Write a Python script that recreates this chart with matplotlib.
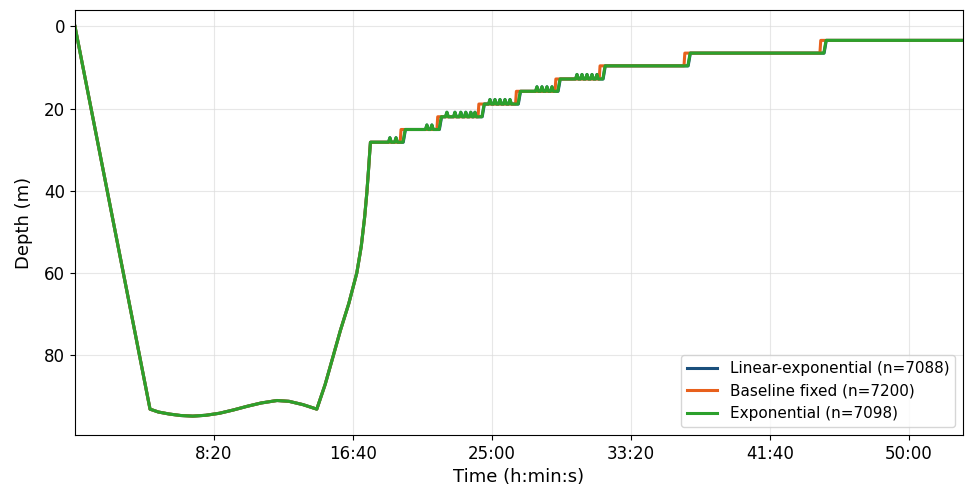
import matplotlib
matplotlib.use("Agg")
import matplotlib.pyplot as plt
from matplotlib.ticker import FuncFormatter
import numpy as np

# Dive profile breakpoints (time in s, depth in m)
descent_t = [0, 270]
descent_d = [0.0, 93.2]

bottom_t = [300, 340, 380, 424, 470, 520, 570, 620, 670, 727, 770, 820, 870]
bottom_d = [93.9, 94.4, 94.75, 94.9, 94.7, 94.2, 93.4, 92.5, 91.7, 91.1, 91.3, 92.1, 93.2]

ascent_t = [900, 928, 955, 985, 1014, 1030, 1042, 1050, 1056, 1060, 1063]
ascent_d = [87.2, 80.5, 74.0, 67.5, 60.0, 53.5, 46.5, 40.5, 35.0, 31.0, 28.2]

# Decompression stops (depth of each stop, shallower as we go)
stop_depths = [28.2, 25.1, 22.0, 18.9, 15.8, 12.8, 9.6, 6.5, 3.4]
end_time = 3195

# Times at which each model leaves a stop
exp_leave_t = [1180, 1310, 1464, 1594, 1737, 1899, 2205, 2694]
linexp_leave_t = [1181, 1311, 1465, 1595, 1738, 1900, 2206, 2695]
baseline_leave_t = [1170, 1302, 1450, 1585, 1727, 1886, 2191, 2680]

# Short upward excursions while holding a stop (stop index, time)
exp_bumps = [
    (0, 1133), (0, 1155),
    (1, 1266), (1, 1284),
    (2, 1338), (2, 1367), (2, 1388), (2, 1406), (2, 1424), (2, 1439),
    (3, 1493), (3, 1511), (3, 1529), (3, 1547), (3, 1565),
    (4, 1662), (4, 1680), (4, 1698), (4, 1716),
    (5, 1806), (5, 1824), (5, 1842), (5, 1860), (5, 1878),
]
bump_height = 1.1

labels = ["Linear-exponential (n=7088)", "Baseline fixed (n=7200)", "Exponential (n=7098)"]
colors = ["#1a4f7c", "#e8601c", "#2ca02c"]


def build_profile(leave_t, step_dur, bumps):
    t = list(descent_t) + bottom_t + ascent_t
    d = list(descent_d) + bottom_d + ascent_d
    bumps_by_stop = {}
    for i, bt in bumps:
        bumps_by_stop.setdefault(i, []).append(bt)
    for i, depth in enumerate(stop_depths):
        for bt in bumps_by_stop.get(i, []):
            t += [bt - 5, bt, bt + 5]
            d += [depth, depth - bump_height, depth]
        if i < len(leave_t):
            t += [leave_t[i], leave_t[i] + step_dur]
            d += [depth, stop_depths[i + 1]]
    t.append(end_time)
    d.append(stop_depths[-1])
    return np.array(t), np.array(d)


series = [
    build_profile(linexp_leave_t, 8, exp_bumps),
    build_profile(baseline_leave_t, 3, []),
    build_profile(exp_leave_t, 8, exp_bumps),
]

fig = plt.figure(figsize=(9.65, 4.95), dpi=100)
ax = fig.add_axes([0.0777, 0.1212, 0.9203, 0.8586])

for (t, d), lab, col in zip(series, labels, colors):
    ax.plot(t, d, color=col, lw=2.2, label=lab, solid_joinstyle="round")

ax.set_xlim(0, end_time)
ax.set_ylim(99.5, -4.0)
ax.set_xticks([500, 1000, 1500, 2000, 2500, 3000])
ax.xaxis.set_major_formatter(FuncFormatter(lambda v, p: f"{int(v // 60)}:{int(v % 60):02d}"))
ax.set_yticks([0, 20, 40, 60, 80])
ax.tick_params(labelsize=12)
ax.grid(True, color="#dddddd", lw=0.8, alpha=0.7)
ax.set_xlabel("Time (h:min:s)", fontsize=13)
ax.set_ylabel("Depth (m)", fontsize=13, labelpad=8)
ax.legend(loc="lower right", fontsize=11, frameon=True)

fig.savefig("out.png", dpi=100)
